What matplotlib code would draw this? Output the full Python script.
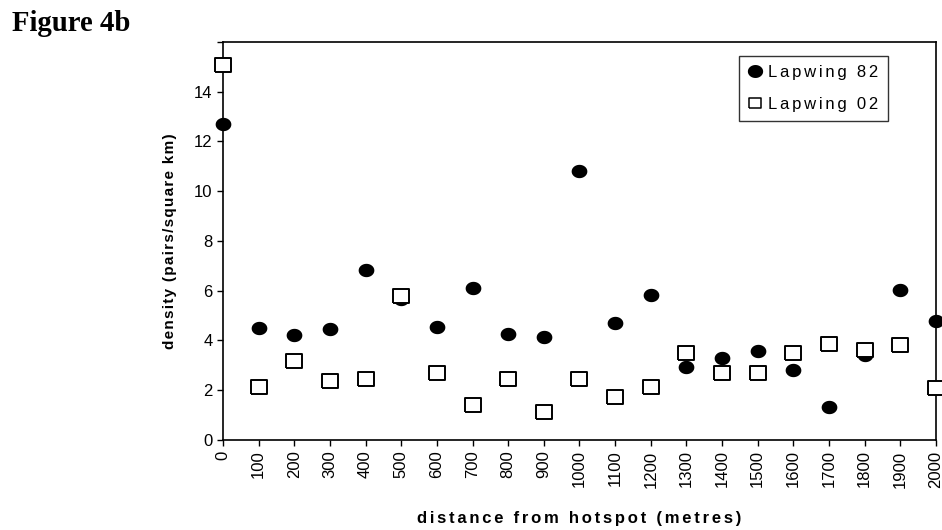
import numpy as np
import matplotlib
matplotlib.use("Agg")
import matplotlib.pyplot as plt

plt.rcParams['font.family'] = ['Liberation Sans', 'DejaVu Sans']

# distance bands (metres) and breeding densities (pairs / square km)
distance = list(range(0, 2001, 100))
lapwing_82 = [12.7, 4.52, 4.23, 4.46, 6.84, 5.65, 4.54, 6.12, 4.28, 4.16, 10.8,
              4.72, 5.82, 2.95, 3.31, 3.56, 2.82, 1.34, 3.4, 6.05, 4.79]
lapwing_02 = [15.06, 2.12, 3.18, 2.39, 2.46, 5.77, 2.70, 1.41, 2.46, 1.11, 2.46,
              1.72, 2.15, 3.49, 2.70, 2.70, 3.49, 3.85, 3.62, 3.80, 2.08]
y_ticks = list(range(0, 17, 2))


def tracked(s, gap='\u2006'):
    # loose letter spacing, spreadsheet style
    return gap.join(s)


# slightly wide ellipse and box shapes for the markers
t = np.linspace(0, 2 * np.pi, 64)
ellipse = list(zip(np.cos(t), 0.85 * np.sin(t)))
box = [(-1, -0.84), (1, -0.84), (1, 0.84), (-1, 0.84), (-1, -0.84)]

fig = plt.figure(figsize=(9.42, 5.30), dpi=100)
ax = fig.add_axes([0.2367, 0.1698, 0.7569, 0.7510])

ax.plot(distance, lapwing_82, linestyle='none', marker=ellipse, markersize=11.3,
        markerfacecolor='black', markeredgewidth=0, color='black',
        label=tracked('Lapwing 82'), clip_on=False, zorder=3)
ax.plot(distance, lapwing_02, linestyle='none', marker=box, markersize=11.7,
        markerfacecolor='white', markeredgecolor='black', markeredgewidth=1.4,
        label=tracked('Lapwing 02'), clip_on=False, zorder=4)

ax.set_xlim(0, 2000)
ax.set_ylim(0, 16)
ax.set_xticks(distance)
ax.set_xticklabels([str(d) for d in distance], rotation=90, fontsize=12)
ax.set_yticks(y_ticks)
ax.set_yticklabels([str(v) if v < 16 else '' for v in y_ticks], fontsize=12)
ax.tick_params(direction='out', length=4.5, width=1, color='black', pad=3)

for s in ax.spines.values():
    s.set_linewidth(1.2)
    s.set_color('black')

ax.set_xlabel(tracked('distance from hotspot (metres)'), fontsize=12,
              fontweight='bold', labelpad=17)
ax.set_ylabel(tracked('density (pairs/square km)', '\u200a'), fontsize=11,
              fontweight='bold', labelpad=12.5)

leg = ax.legend(loc='upper right', bbox_to_anchor=(0.9323, 0.9648), borderaxespad=0,
                fontsize=12, frameon=True, fancybox=False, handlelength=0.85,
                handletextpad=0.38, borderpad=0.55, labelspacing=1.0)
leg.get_frame().set_edgecolor('black')
leg.get_frame().set_linewidth(1)
leg.legend_handles[0].set_markersize(11)
leg.legend_handles[1].set_markersize(9)
leg.legend_handles[1].set_markeredgewidth(1.1)

fig.text(12 / 942, 1 - 31 / 530, 'Figure 4b', fontsize=20.7, fontweight='bold',
         family=['Liberation Serif', 'DejaVu Serif'], va='baseline', ha='left')

fig.savefig('out.png', dpi=100)
